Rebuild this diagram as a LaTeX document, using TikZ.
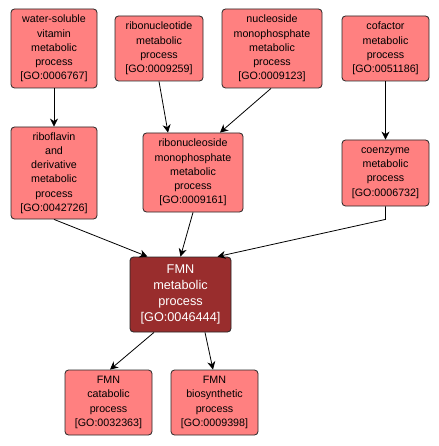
\documentclass[tikz,border=0pt]{standalone}
\usepackage{fontspec}
\setmainfont{Liberation Sans}
\usetikzlibrary{arrows.meta}
\definecolor{gopink}{HTML}{FF8080}
\definecolor{godark}{HTML}{992D2D}
\begin{document}
\begin{tikzpicture}[x=1pt,y=-1pt,
  gobox/.style={draw=black!85, line width=0.8pt, rounded corners=3.5pt, fill=gopink,
    align=center, inner sep=0pt, font=\fontsize{10.7}{14.2}\selectfont},
  gomain/.style={gobox, fill=godark, text=white, font=\fontsize{12.7}{16}\selectfont},
  edge/.style={draw=black, line width=0.8pt, -{Stealth[length=8pt,width=8pt,inset=2.5pt]}}]
\useasboundingbox (0,0) rectangle (438,446);
\node[gobox, minimum width=86pt, minimum height=79pt] (ws) at (54,48.5) {water-soluble\\vitamin\\metabolic\\process\\{[GO:0006767]}};
\node[gobox, minimum width=88pt, minimum height=65pt] (rnt) at (159,48.5) {ribonucleotide\\metabolic\\process\\{[GO:0009259]}};
\node[gobox, minimum width=100pt, minimum height=79pt] (nmp) at (272,48.5) {nucleoside\\monophosphate\\metabolic\\process\\{[GO:0009123]}};
\node[gobox, minimum width=87pt, minimum height=65pt] (cof) at (385.5,48.5) {cofactor\\metabolic\\process\\{[GO:0051186]}};
\node[gobox, minimum width=86pt, minimum height=92pt] (rib) at (54,173) {riboflavin\\and\\derivative\\metabolic\\process\\{[GO:0042726]}};
\node[gobox, minimum width=100pt, minimum height=79pt] (rns) at (193,172.5) {ribonucleoside\\monophosphate\\metabolic\\process\\{[GO:0009161]}};
\node[gobox, minimum width=87pt, minimum height=66pt] (coe) at (385.5,173) {coenzyme\\metabolic\\process\\{[GO:0006732]}};
\node[gomain, minimum width=101pt, minimum height=75pt] (fmn) at (180.5,294.5) {FMN\\metabolic\\process\\{[GO:0046444]}};
\node[gobox, minimum width=87pt, minimum height=65pt] (cat) at (108.5,402.5) {FMN\\catabolic\\process\\{[GO:0032363]}};
\node[gobox, minimum width=87pt, minimum height=65pt] (bio) at (214.5,402.5) {FMN\\biosynthetic\\process\\{[GO:0009398]}};
\draw[edge] (ws.south) -- (rib.north);
\draw[edge] (rnt.south) -- ([xshift=-25pt]rns.north);
\draw[edge] ([xshift=-1pt]nmp.south) -- ([xshift=27pt]rns.north);
\draw[edge] (cof.south) -- (coe.north);
\draw[edge] (rib.south) -- ([xshift=-33pt]fmn.north);
\draw[edge] (rns.south) -- (fmn.north);
\draw[edge] (coe.south) -- ++(0,13) -- ([xshift=37pt]fmn.north);
\draw[edge] ([xshift=-26.5pt]fmn.south) -- ([xshift=1.5pt]cat.north);
\draw[edge] ([xshift=24.5pt]fmn.south) -- ([xshift=-1.5pt]bio.north);
\end{tikzpicture}
\end{document}
